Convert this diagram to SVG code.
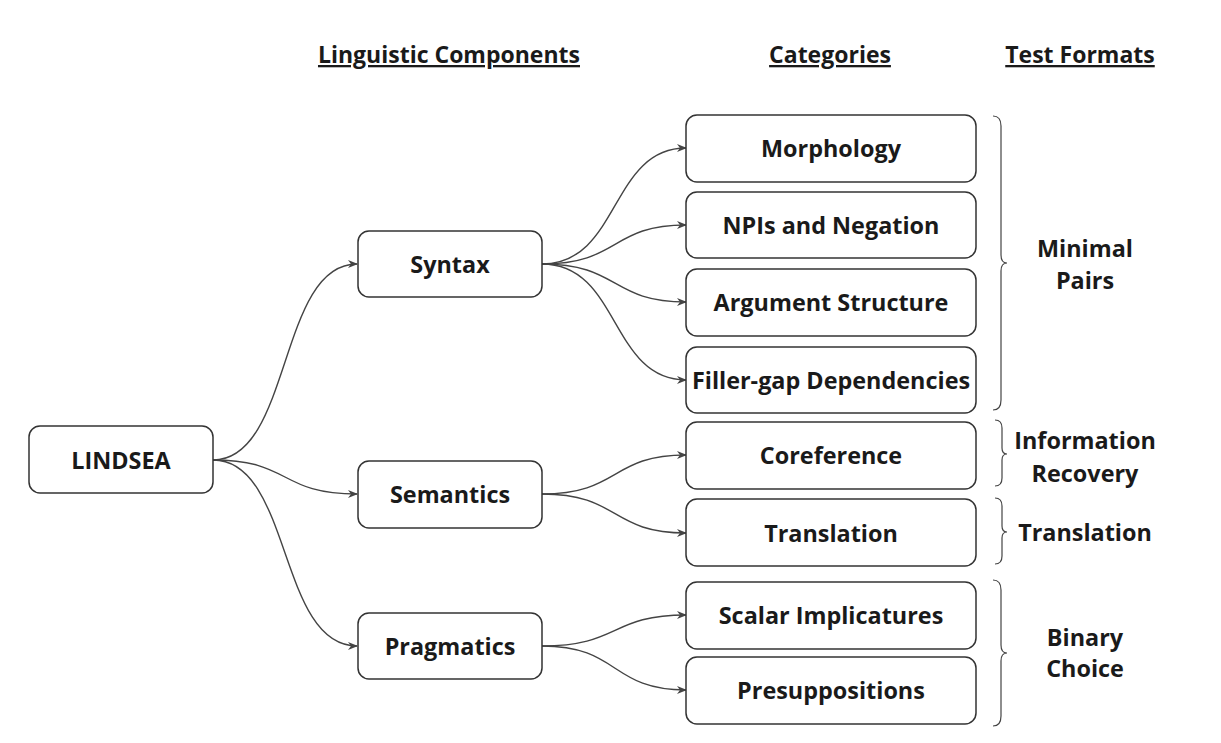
<svg xmlns="http://www.w3.org/2000/svg" width="1221" height="743" viewBox="0 0 1221 743">
<style>
.box{fill:#fff;stroke:#333;stroke-width:1.5}
.lbl{font-family:"Open Sans","Noto Sans",sans-serif;font-weight:700;font-size:23.4px;fill:#1a1a1a;text-anchor:middle}
.hdr{font-family:"Open Sans","Noto Sans",sans-serif;font-weight:700;font-size:23px;fill:#1a1a1a;text-anchor:middle;text-decoration:underline}
.edge{fill:none;stroke:#444;stroke-width:1.4;marker-end:url(#arr)}
.brace{fill:none;stroke:#444;stroke-width:1.2}
</style>
<defs>
<marker id="arr" viewBox="0 0 10 10" refX="9" refY="5" markerWidth="10" markerHeight="10" markerUnits="userSpaceOnUse" orient="auto">
<path d="M0,1 L10,5 L0,9 L3,5 z" fill="#444"/>
</marker>
</defs>
<g id="headers">
<text class="hdr" x="449" y="63">Linguistic Components</text>
<text class="hdr" x="830" y="63">Categories</text>
<text class="hdr" x="1080" y="63">Test Formats</text>
</g>
<g id="connectors">
<path class="edge" d="M213,460 C292,460 278,264 357,264"/>
<path class="edge" d="M213,460 C292,460 278,494 357,494"/>
<path class="edge" d="M213,460 C292,460 278,646 357,646"/>
<path class="edge" d="M542,264 C620,264 610,148 686,148"/>
<path class="edge" d="M542,264 C620,264 610,225 686,225"/>
<path class="edge" d="M542,264 C620,264 610,302 686,302"/>
<path class="edge" d="M542,264 C620,264 610,380 686,380"/>
<path class="edge" d="M542,494 C620,494 610,455 686,455"/>
<path class="edge" d="M542,494 C620,494 610,533 686,533"/>
<path class="edge" d="M542,646 C620,646 610,615 686,615"/>
<path class="edge" d="M542,646 C620,646 610,690 686,690"/>
</g>
<g id="lindsea"><rect class="box" x="29" y="426" width="184" height="67" rx="11"/><text class="lbl" x="121" y="469">LINDSEA</text></g>
<g id="syntax"><rect class="box" x="358" y="231" width="184" height="66" rx="11"/><text class="lbl" x="450" y="273">Syntax</text></g>
<g id="semantics"><rect class="box" x="358" y="461" width="184" height="67" rx="11"/><text class="lbl" x="450" y="503">Semantics</text></g>
<g id="pragmatics"><rect class="box" x="358" y="613" width="184" height="66" rx="11"/><text class="lbl" x="450" y="655">Pragmatics</text></g>
<g id="morphology"><rect class="box" x="686" y="115" width="290" height="67" rx="11"/><text class="lbl" x="831" y="157">Morphology</text></g>
<g id="npis"><rect class="box" x="686" y="192" width="290" height="66" rx="11"/><text class="lbl" x="831" y="234">NPIs and Negation</text></g>
<g id="argument"><rect class="box" x="686" y="269" width="290" height="67" rx="11"/><text class="lbl" x="831" y="311">Argument Structure</text></g>
<g id="filler"><rect class="box" x="686" y="347" width="290" height="66" rx="11"/><text class="lbl" x="831" y="389">Filler-gap Dependencies</text></g>
<g id="coreference"><rect class="box" x="686" y="422" width="290" height="67" rx="11"/><text class="lbl" x="831" y="464">Coreference</text></g>
<g id="translation"><rect class="box" x="686" y="499" width="290" height="67" rx="11"/><text class="lbl" x="831" y="542">Translation</text></g>
<g id="scalar"><rect class="box" x="686" y="582" width="290" height="67" rx="11"/><text class="lbl" x="831" y="624">Scalar Implicatures</text></g>
<g id="presup"><rect class="box" x="686" y="657" width="290" height="67" rx="11"/><text class="lbl" x="831" y="699">Presuppositions</text></g>
<g id="minimal-pairs">
<path class="brace" d="M993,116 Q1001,116 1001,126 L1001,255 Q1001,263 1007,263 Q1001,263 1001,271 L1001,400 Q1001,410 993,410"/>
<text class="lbl" x="1085" y="257">Minimal</text><text class="lbl" x="1085" y="289">Pairs</text>
</g>
<g id="info-recovery">
<path class="brace" d="M995,420 Q1002,420 1002,428 L1002,448 Q1002,454 1007,454 Q1002,454 1002,460 L1002,478 Q1002,486 995,486"/>
<text class="lbl" x="1085" y="449">Information</text><text class="lbl" x="1085" y="482">Recovery</text>
</g>
<g id="translation-format">
<path class="brace" d="M995,498 Q1002,498 1002,506 L1002,526 Q1002,532 1007,532 Q1002,532 1002,538 L1002,556 Q1002,564 995,564"/>
<text class="lbl" x="1085" y="541">Translation</text>
</g>
<g id="binary-choice">
<path class="brace" d="M993,580 Q1001,580 1001,590 L1001,645 Q1001,653 1007,653 Q1001,653 1001,661 L1001,716 Q1001,726 993,726"/>
<text class="lbl" x="1085" y="646">Binary</text><text class="lbl" x="1085" y="677">Choice</text>
</g>
</svg>
